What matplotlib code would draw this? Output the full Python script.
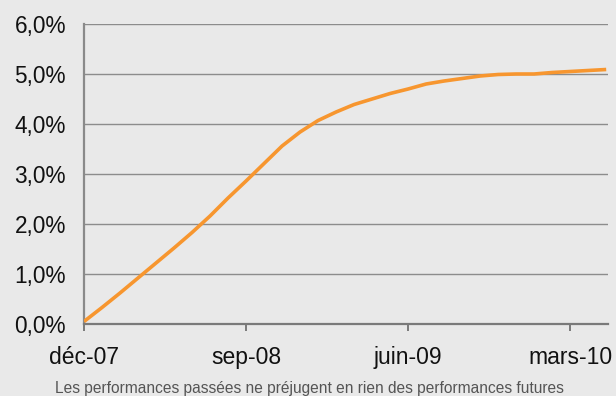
import matplotlib
matplotlib.use("Agg")
import matplotlib.pyplot as plt
from matplotlib.ticker import FuncFormatter

# Cumulative performance, one value per month starting déc-07 (in %)
months = list(range(30))
performance = [
    0.05, 0.33, 0.62, 0.92, 1.22, 1.52, 1.83, 2.16, 2.52, 2.86,
    3.21, 3.56, 3.84, 4.07, 4.24, 4.39, 4.50, 4.61, 4.70, 4.80,
    4.86, 4.91, 4.96, 4.99, 5.00, 5.00, 5.03, 5.05, 5.07, 5.09,
]
x_tick_pos = [0, 9, 18, 27]
x_tick_labels = ["déc-07", "sep-08", "juin-09", "mars-10"]
y_ticks = [0, 1, 2, 3, 4, 5, 6]
note = "Les performances passées ne préjugent en rien des performances futures"

bg = "#e9e9e9"
grid_col = "#8c8c8c"
line_col = "#F7962F"

plt.rcParams["font.family"] = ["Liberation Sans", "DejaVu Sans"]

fig = plt.figure(figsize=(6.16, 3.96), dpi=100, facecolor=bg)
ax = fig.add_axes([84 / 616, 1 - 324 / 396, (608 - 84) / 616, (324 - 24) / 396])
ax.set_facecolor(bg)

ax.plot(months, performance, color=line_col, lw=2.6, solid_capstyle="butt", zorder=3)

ax.set_xlim(0, 29.1)
ax.set_ylim(0, 6)
ax.set_yticks(y_ticks)
ax.yaxis.set_major_formatter(FuncFormatter(lambda v, _: f"{v:.1f}%".replace(".", ",")))
ax.set_xticks(x_tick_pos)
ax.set_xticklabels(x_tick_labels)

ax.grid(axis="y", color=grid_col, lw=1.0)
ax.set_axisbelow(True)
for side in ("top", "right"):
    ax.spines[side].set_visible(False)
ax.spines["left"].set_color("#8a8a8a")
ax.spines["left"].set_linewidth(1.6)
ax.spines["bottom"].set_color("#7a7a7a")
ax.spines["bottom"].set_linewidth(1.6)

ax.tick_params(axis="y", length=0, pad=13, labelsize=16.3, labelcolor="#111111")
ax.tick_params(axis="x", length=5, width=1.4, color="#7a7a7a", pad=11,
               labelsize=16.5, labelcolor="#111111")

fig.text(309 / 616, 1 - 388 / 396, note, ha="center", va="center",
         fontsize=11.2, color="#555555")

fig.savefig("out.png", dpi=100, facecolor=bg)
